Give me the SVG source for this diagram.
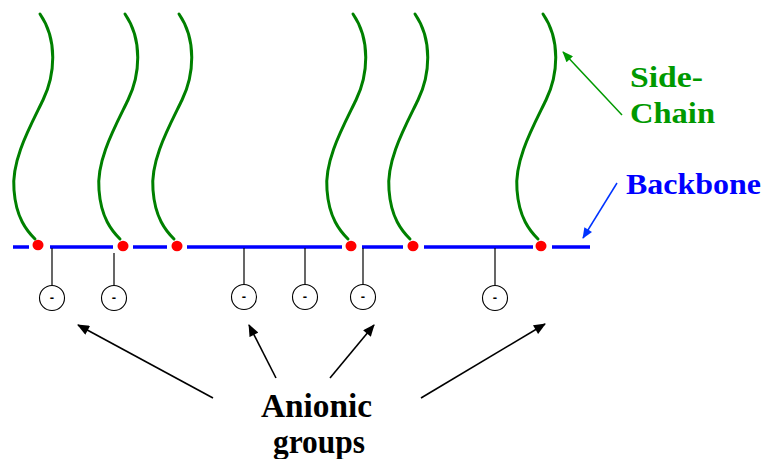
<svg xmlns="http://www.w3.org/2000/svg" width="764" height="459" viewBox="0 0 764 459">
<style>
.chain{fill:none;stroke:#008000;stroke-width:3;stroke-linecap:round}
.bb{stroke:#0000FF;stroke-width:3.3;fill:none}
.dot{fill:#FF0000}
.pend{stroke:#000;stroke-width:1.2;fill:none}
.ion{fill:#fff;stroke:#000;stroke-width:1.1}
.minus{font-family:"Liberation Sans",Arial,sans-serif;font-weight:bold;font-size:13px;text-anchor:middle;fill:#000}
.lbl{font-family:"Liberation Serif","Times New Roman",serif;font-weight:bold}
</style>
<defs>
<path id="sc" d="M 2 14 C 20 40, 17 75, 5 100 C -7 125, -27 160, -24 190 C -22 218, -11 231, -3 239"/>
<marker id="ahk" viewBox="0 0 12 10" refX="11" refY="5" markerWidth="13" markerHeight="10" orient="auto" markerUnits="userSpaceOnUse"><path d="M0 0 L12 5 L0 10 z" fill="#000"/></marker>
<marker id="ahg" viewBox="0 0 12 10" refX="11" refY="5" markerWidth="12" markerHeight="9" orient="auto" markerUnits="userSpaceOnUse"><path d="M0 0 L12 5 L0 10 z" fill="#009900"/></marker>
<marker id="ahb" viewBox="0 0 12 10" refX="11" refY="5" markerWidth="12" markerHeight="9" orient="auto" markerUnits="userSpaceOnUse"><path d="M0 0 L12 5 L0 10 z" fill="#0033FF"/></marker>
</defs>

<g id="backbone">
<path class="bb" d="M13 247 H29 M50 247 H113 M133 247 H167 M187 247 H342 M362 247 H403 M424 247 H533 M552 247 H590"/>
</g>

<g id="sidechains">
<use href="#sc" class="chain" x="38" y="0"/>
<use href="#sc" class="chain" x="123" y="0"/>
<use href="#sc" class="chain" x="177" y="0"/>
<use href="#sc" class="chain" x="351" y="0"/>
<use href="#sc" class="chain" x="413" y="0"/>
<use href="#sc" class="chain" x="541" y="0"/>
</g>

<g id="junctions">
<ellipse class="dot" cx="38" cy="245" rx="5.5" ry="5.3"/>
<ellipse class="dot" cx="123" cy="246" rx="5.5" ry="5.3"/>
<ellipse class="dot" cx="177" cy="246" rx="5.5" ry="5.3"/>
<ellipse class="dot" cx="351" cy="246" rx="5.5" ry="5.3"/>
<ellipse class="dot" cx="413" cy="246" rx="5.5" ry="5.3"/>
<ellipse class="dot" cx="541" cy="246" rx="5.5" ry="5.3"/>
</g>

<g id="anion1"><line class="pend" x1="52" y1="248" x2="52" y2="285"/><circle class="ion" cx="52" cy="298" r="12.5"/><text class="minus" x="52" y="302">-</text></g>
<g id="anion2"><line class="pend" x1="114" y1="253" x2="114" y2="285"/><circle class="ion" cx="114" cy="298" r="12.5"/><text class="minus" x="114" y="302">-</text></g>
<g id="anion3"><line class="pend" x1="244" y1="248" x2="244" y2="284"/><circle class="ion" cx="244" cy="297" r="12.5"/><text class="minus" x="244" y="301">-</text></g>
<g id="anion4"><line class="pend" x1="305" y1="248" x2="305" y2="284"/><circle class="ion" cx="305" cy="297" r="12.5"/><text class="minus" x="305" y="301">-</text></g>
<g id="anion5"><line class="pend" x1="363" y1="248" x2="363" y2="284"/><circle class="ion" cx="363" cy="297" r="12.5"/><text class="minus" x="363" y="301">-</text></g>
<g id="anion6"><line class="pend" x1="495" y1="248" x2="495" y2="285"/><circle class="ion" cx="495" cy="298" r="12.5"/><text class="minus" x="495" y="302">-</text></g>

<g id="connectors">
<line x1="622" y1="115" x2="563" y2="52" stroke="#009900" stroke-width="1.5" marker-end="url(#ahg)"/>
<line x1="617" y1="183" x2="583" y2="238" stroke="#0033FF" stroke-width="1.5" marker-end="url(#ahb)"/>
<line x1="213" y1="398" x2="78" y2="325" stroke="#000" stroke-width="1.6" marker-end="url(#ahk)"/>
<line x1="276" y1="378" x2="249" y2="325" stroke="#000" stroke-width="1.6" marker-end="url(#ahk)"/>
<line x1="330" y1="378" x2="374" y2="325" stroke="#000" stroke-width="1.6" marker-end="url(#ahk)"/>
<line x1="421" y1="398" x2="545" y2="324" stroke="#000" stroke-width="1.6" marker-end="url(#ahk)"/>
</g>

<g id="label-sidechain">
<text class="lbl" x="630" y="87" font-size="30" fill="#009900" textLength="73" lengthAdjust="spacingAndGlyphs">Side-</text>
<text class="lbl" x="630" y="123" font-size="30" fill="#009900" textLength="85" lengthAdjust="spacingAndGlyphs">Chain</text>
</g>
<g id="label-backbone">
<text class="lbl" x="626" y="194" font-size="30" fill="#0000FF" textLength="135" lengthAdjust="spacingAndGlyphs">Backbone</text>
</g>
<g id="label-anionic">
<text class="lbl" x="261" y="417" font-size="34" fill="#000" textLength="111" lengthAdjust="spacingAndGlyphs">Anionic</text>
<text class="lbl" x="273" y="453" font-size="34" fill="#000" textLength="92" lengthAdjust="spacingAndGlyphs">groups</text>
</g>
</svg>
